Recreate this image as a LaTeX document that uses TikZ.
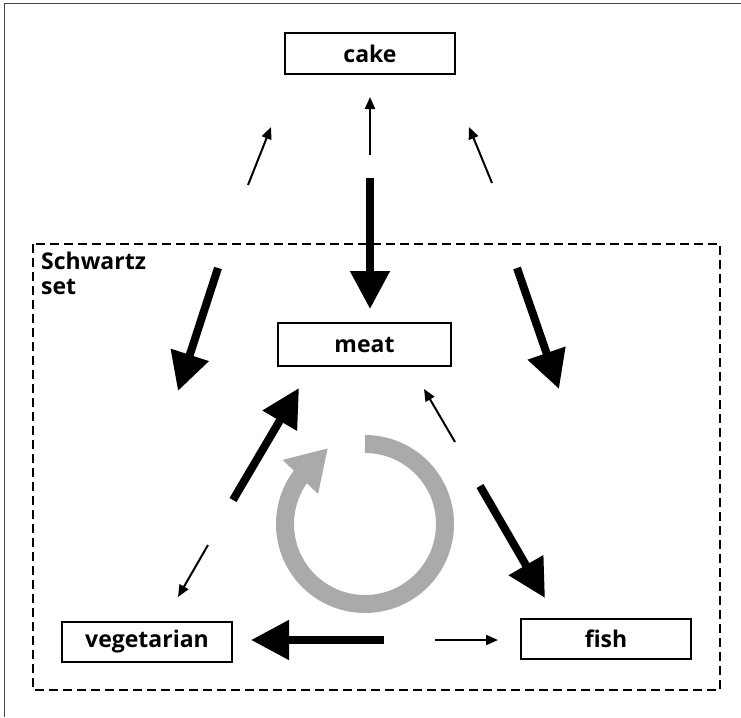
\documentclass[tikz,border=0pt]{standalone}
\usepackage{fontspec}
\setmainfont{Open Sans}
\usetikzlibrary{arrows.meta}
\definecolor{cyclegray}{HTML}{AAAAAA}
\definecolor{framegray}{HTML}{444444}
\tikzset{
  option/.style={draw=black, line width=2pt, minimum width=170pt, minimum height=40pt,
    inner sep=0pt, font=\fontsize{23}{27}\selectfont\bfseries},
  strong/.style={line width=8pt, -{Triangle[length=38pt,width=38pt]}},
  weak/.style={line width=2pt, -{Triangle[length=12pt,width=10pt]}},
}
\begin{document}
\begin{tikzpicture}[x=1pt,y=-1pt]
  \useasboundingbox (0,0) rectangle (741,717);
  % page frame, top and left edges only
  \draw[framegray, line width=1.5pt] (4.5,717) -- (4.5,3.5) -- (741,3.5);

  % Schwartz set region
  \draw[line width=2pt, dash pattern=on 9pt off 5pt] (33,244) rectangle (720,690);
  \node[anchor=north west, align=left, inner sep=0pt,
        font=\fontsize{23}{25}\selectfont\bfseries] (label) at (41,252) {Schwartz\\set};

  % alternatives
  \node[option] (cake) at (370,53.5) {cake};
  \node[option, minimum width=173pt, minimum height=43pt] (meat) at (364.5,344.5) {meat};
  \node[option] (veg) at (147,642) {vegetarian};
  \node[option] (fish) at (606,639) {fish};

  % arrow end points
  \coordinate (cm1) at (370,155);  \coordinate (cm2) at (370,97);
  \coordinate (mc1) at (370,178);  \coordinate (mc2) at (370,309);
  \coordinate (lc1) at (248,185);  \coordinate (lc2) at (271,127);
  \coordinate (rc1) at (492,183);  \coordinate (rc2) at (469,127);
  \coordinate (lv1) at (218,268);  \coordinate (lv2) at (178,391);
  \coordinate (rf1) at (517,268);  \coordinate (rf2) at (559,389);
  \coordinate (vm1) at (233,500);  \coordinate (vm2) at (299,388);
  \coordinate (fm1) at (455,442);  \coordinate (fm2) at (424,389);
  \coordinate (mv1) at (208,545);  \coordinate (mv2) at (178,597);
  \coordinate (mf1) at (480,486);  \coordinate (mf2) at (545,598);
  \coordinate (fv1) at (384,640);  \coordinate (fv2) at (251,640);
  \coordinate (vf1) at (435,640);  \coordinate (vf2) at (498,640);

  % weak preferences
  \draw[weak] (cm1) -- (cm2);
  \draw[weak] (lc1) -- (lc2);
  \draw[weak] (rc1) -- (rc2);
  \draw[weak] (fm1) -- (fm2);
  \draw[weak] (mv1) -- (mv2);
  \draw[weak] (vf1) -- (vf2);

  % strong preferences
  \draw[strong] (mc1) -- (mc2);
  \draw[strong] (lv1) -- (lv2);
  \draw[strong] (rf1) -- (rf2);
  \draw[strong] (vm1) -- (vm2);
  \draw[strong] (mf1) -- (mf2);
  \draw[strong] (fv1) -- (fv2);

  % cycle symbol (y axis points down, so angles run clockwise on the page)
  \coordinate (cyc) at (365,524);
  \coordinate (cyctip) at (328,448);
  \draw[cyclegray, line width=18pt, -{Triangle[length=40pt,width=46pt]}]
    ([shift={(-90:80)}]cyc) arc[start angle=-90, end angle=216, radius=80]
    -- (cyctip);
\end{tikzpicture}
\end{document}
